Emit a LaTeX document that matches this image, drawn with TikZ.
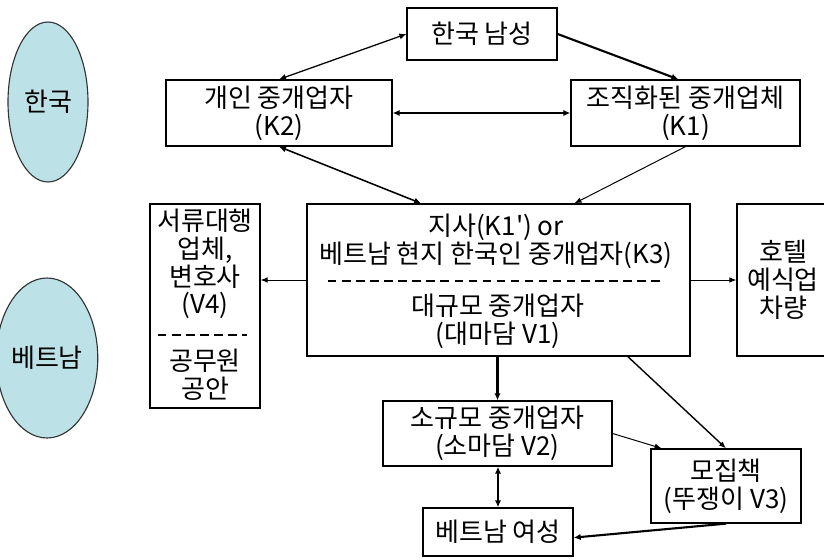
\documentclass[tikz,border=0pt]{standalone}
\usepackage{fontspec}
\setmainfont{Noto Sans CJK KR}
\usetikzlibrary{shapes.geometric,arrows.meta}
\definecolor{nara}{HTML}{BCE2E8}
\begin{document}
\begin{tikzpicture}[x=0.025cm,y=-0.025cm,
    font=\fontsize{18.5}{19.8}\selectfont,
    txt/.style={align=center,inner sep=0pt},
    box/.style={draw,line width=0.9pt,rectangle,align=center,inner sep=0pt},
    land/.style={draw=black!80,fill=nara,ellipse,line width=0.8pt,inner sep=0pt,
      minimum width=80*0.025cm,minimum height=160*0.025cm},
    thin/.style={line width=0.7pt,-{Latex[length=5pt,width=4pt]}},
    thick/.style={line width=1.5pt,-{Latex[length=5pt,width=4.5pt]}},
    both/.style={line width=1.1pt,{Latex[length=5pt,width=4.5pt]}-{Latex[length=5pt,width=4.5pt]}}]
  % 그림 크기 824 x 560 (1 단위 = 1 px)
  \useasboundingbox (0,0) rectangle (824,560);
  \clip (0,0) rectangle (824,560);

  % 국가 구분 타원
  \node[land] (hanguk) at (48,102) {한국};
  \node[land] (beteunam) at (47,358) {베트남};

  % 한국 쪽 상자
  \node[box,minimum width=150*0.025cm,minimum height=52*0.025cm] (nam) at (482,34) {한국 남성};
  \node[box,minimum width=226*0.025cm,minimum height=66*0.025cm] (kaein) at (279,113) {개인 중개업자\\(K2)};
  \node[box,minimum width=229*0.025cm,minimum height=66*0.025cm] (jojik) at (685.5,113) {조직화된 중개업체\\(K1)};

  % 베트남 쪽 큰 상자 (점선으로 위아래 나눔)
  \node[box,minimum width=383*0.025cm,minimum height=152*0.025cm] (jisa) at (498.5,280) {};
  \node[txt] (jisaup) at (496,241) {지사(K1\textquotesingle) or\\베트남 현지 한국인 중개업자(K3)};
  \node[txt] (jisadn) at (498,321) {대규모 중개업자\\(대마담 V1)};
  \draw[dashed,line width=0.8pt,dash pattern=on 6pt off 4pt] (328,281) -- (663,281);

  % 좌우 상자
  \node[box,minimum width=110*0.025cm,minimum height=204*0.025cm] (seoryu) at (205,306) {};
  \node[txt] (seoryuup) at (205,264) {서류대행\\업체,\\변호사\\(V4)};
  \node[txt] (seoryudn) at (205,375) {공무원\\공안};
  \draw[dashed,line width=0.8pt,dash pattern=on 6pt off 4pt] (158,335) -- (247,335);
  \node[box,minimum width=108*0.025cm,minimum height=152*0.025cm] (hotel) at (791,280) {};
  \node[txt] (hoteltxt) at (783,280) {호텔\\예식업\\차량};

  % 아래쪽 상자
  \node[box,minimum width=229*0.025cm,minimum height=65*0.025cm] (sogyumo) at (497.5,433.5) {소규모 중개업자\\(소마담 V2)};
  \node[box,minimum width=150*0.025cm,minimum height=74*0.025cm] (mojip) at (726,486) {모집책\\(뚜쟁이 V3)};
  \node[box,minimum width=150*0.025cm,minimum height=48*0.025cm] (yeoseong) at (498,532) {베트남 여성};

  % 연결선
  \draw[both,line width=0.9pt] (nam.west) -- (kaein.north);
  \draw[thick] (nam.east) -- ([xshift=-5pt]jojik.north);
  \draw[both,line width=1.5pt] (kaein.east) -- (jojik.west);
  \draw[both] (kaein.south) -- ([xshift=-55pt]jisa.north);
  \draw[thin] (jojik.south) -- ([xshift=54pt]jisa.north);
  \draw[thin] (jisa.west) -- (jisa.west -| seoryu.east);
  \draw[thin] (jisa.east) -- (jisa.east -| hotel.west);
  \draw[thick] (sogyumo.north |- jisa.south) -- (sogyumo.north);
  \draw[thin,line width=1pt] ([xshift=92pt]jisa.south) -- (mojip.north);
  \draw[thin] (sogyumo.east) -- ([xshift=8pt]mojip.north west);
  \draw[both,line width=1.5pt] (sogyumo.south -| yeoseong.north) -- (yeoseong.north);
  \draw[thick] (mojip.south) -- ([yshift=-4pt]yeoseong.east);
\end{tikzpicture}
\end{document}
